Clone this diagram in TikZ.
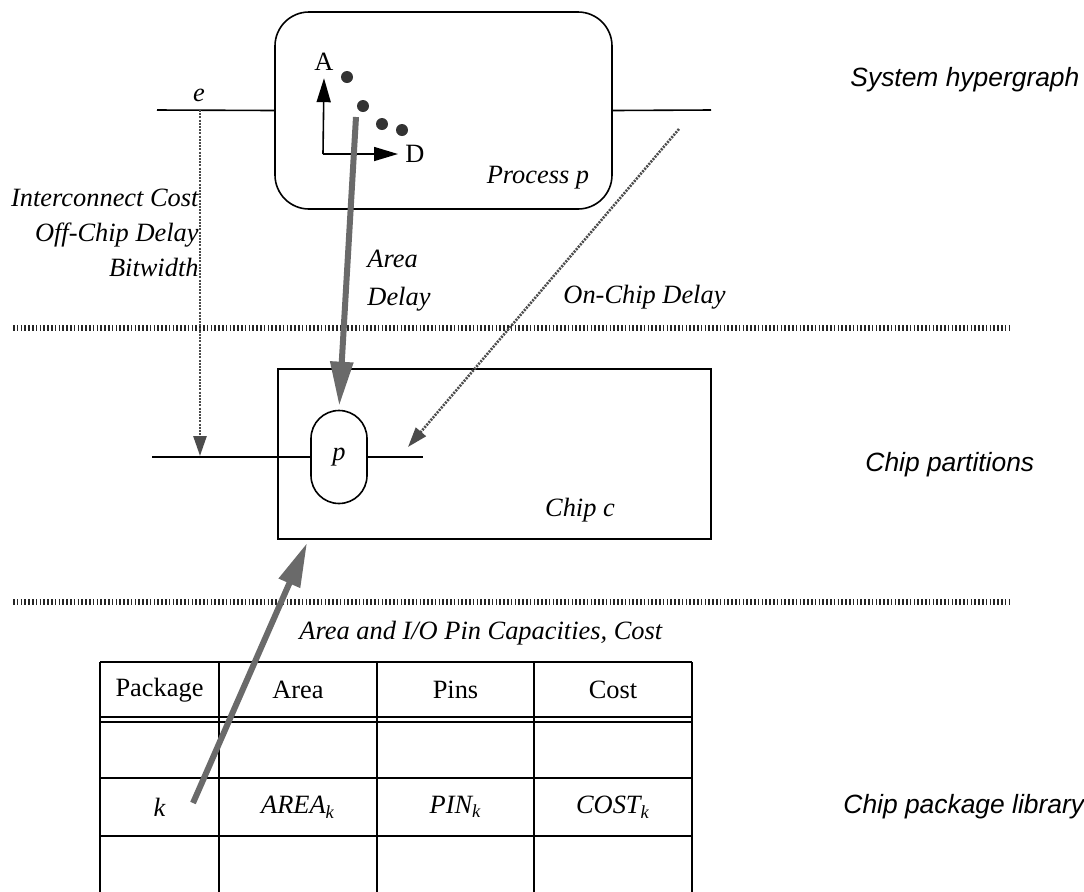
\documentclass[tikz,border=0pt]{standalone}
\usepackage{amstext}
\usepackage{fontspec}
\setmainfont{Liberation Serif}
\newfontfamily\layerfont{Liberation Sans}
\usepackage{xcolor}
\definecolor{checkgray}{HTML}{6A6A6A}
\usepackage{tikz}
\usetikzlibrary{arrows.meta, positioning, calc}

\tikzset{
	box/.style={draw, line width=0.8pt, inner sep=0pt},
	divider/.style={black!85, line width=3.4pt, dash pattern=on 0.8pt off 1.1pt},
	bigflow/.style={checkgray, line width=3pt, -{Triangle[length=22pt, width=11pt]}},
	thinflow/.style={black!70, line width=1.3pt, dash pattern=on 1pt off 0.6pt, -{Triangle[length=10pt, width=6.5pt]}},
	axis/.style={line width=0.8pt, -{Triangle[length=12pt, width=7pt]}},
	layer/.style={font=\fontsize{13.2}{16}\layerfont\itshape, anchor=west},
	cell/.style={inner sep=0pt},
}

\begin{document}
\begin{tikzpicture}[x=0.5pt, y=-0.5pt, line width=0.8pt,
	every node/.append style={font=\fontsize{13.2}{17.5}\selectfont}]
	
	\useasboundingbox (0, 0) rectangle (1084, 891);
	
	% system hypergraph level
	\node[box, rounded corners=17pt, minimum width=168.5pt, minimum height=98.5pt] (proc) at (443.5, 110.5) {};
	\node (procname) at (538, 178) {\itshape Process p};
	\coordinate (eleft) at (157, 110);
	\coordinate (eright) at (711, 110);
	\draw (eleft) -- (proc.west);
	\draw (proc.east) -- (eright);
	\node (elab) at (199, 95) {\itshape e};
	
	\coordinate (orig) at (323, 154);
	\node (alab) at (324, 62) {A};
	\node (dlab) at (415, 154) {D};
	\draw[axis] (orig) -- (alab.south);
	\draw[axis] (orig) -- (dlab.west);
	\foreach \x/\y in {347/77, 363/106, 382/124, 402/130} {
		\fill[black!80] (\x, \y) circle[radius=3pt];
	}
	
	\node[layer] (syslab) at (843, 80) {System hypergraph};
	
	% level dividers
	\draw[divider] (13, 328) -- (1012, 328);
	\draw[divider] (13, 602) -- (1012, 602);
	
	% chip partition level
	\node[box, minimum width=216.5pt, minimum height=85pt] (chip) at (494.5, 454) {};
	\node (chipname) at (580, 510) {\itshape Chip c};
	\node[box, rounded corners=14pt, minimum width=28pt, minimum height=46.5pt] (pnode) at (339, 457) {\itshape p};
	\coordinate (cleft) at (152, 457);
	\coordinate (cright) at (423, 457);
	\draw (cleft) -- (pnode.west);
	\draw (pnode.east) -- (cright);
	\node[layer] (partlab) at (858, 465) {Chip partitions};
	
	% estimates passed down
	\coordinate (etap) at (200, 110);
	\coordinate (ctap) at (200, 456);
	\draw[thinflow] (etap) -- (ctap);
	\node[align=right, anchor=east, font=\fontsize{13.2}{17.5}\selectfont\itshape] (costlab) at (206, 233)
		{Interconnect Cost\\Off-Chip Delay\\Bitwidth};
	
	\coordinate (pareto) at (356, 117);
	\draw[bigflow, shorten >=2pt] (pareto) -- (pnode.north);
	\node[align=left, anchor=west, font=\fontsize{13.2}{19}\selectfont\itshape] (adlab) at (360, 281) {Area\\Delay};
	
	\coordinate (ontap) at (679, 129);
	\coordinate (onend) at (408, 447);
	\draw[thinflow] (ontap) -- (onend);
	\node[anchor=west] (onlab) at (556, 297) {\itshape On-Chip Delay};
	
	% package library
	\draw (100, 662) -- (692, 662);
	\draw (100, 717) -- (692, 717);
	\draw (100, 722) -- (692, 722);
	\draw (100, 778) -- (692, 778);
	\draw (100, 836) -- (692, 836);
	\foreach \x in {100, 219, 377, 534, 692} {
		\draw (\x, 662) -- (\x, 895);
	}
	\node[cell] (hpack) at (159.5, 690) {Package};
	\node[cell] (harea) at (298, 690) {Area};
	\node[cell] (hpins) at (455.5, 690) {Pins};
	\node[cell] (hcost) at (613, 690) {Cost};
	\node[cell] (kpack) at (159.5, 807) {\itshape k};
	\node[cell] (karea) at (298, 807) {$\textit{AREA}_{\textit{k}}$};
	\node[cell] (kpins) at (455.5, 807) {$\textit{PIN}_{\textit{k}}$};
	\node[cell] (kcost) at (613, 807) {$\textit{COST}_{\textit{k}}$};
	\node[layer] (liblab) at (836, 807) {Chip package library};
	
	\node[anchor=west] (caplab) at (292, 633) {\itshape Area and I/O Pin Capacities, Cost};
	\coordinate (ktail) at (193, 803);
	\coordinate (chiphit) at (307, 543);
	\draw[bigflow] (ktail) -- (chiphit);
	
\end{tikzpicture}
\end{document}
